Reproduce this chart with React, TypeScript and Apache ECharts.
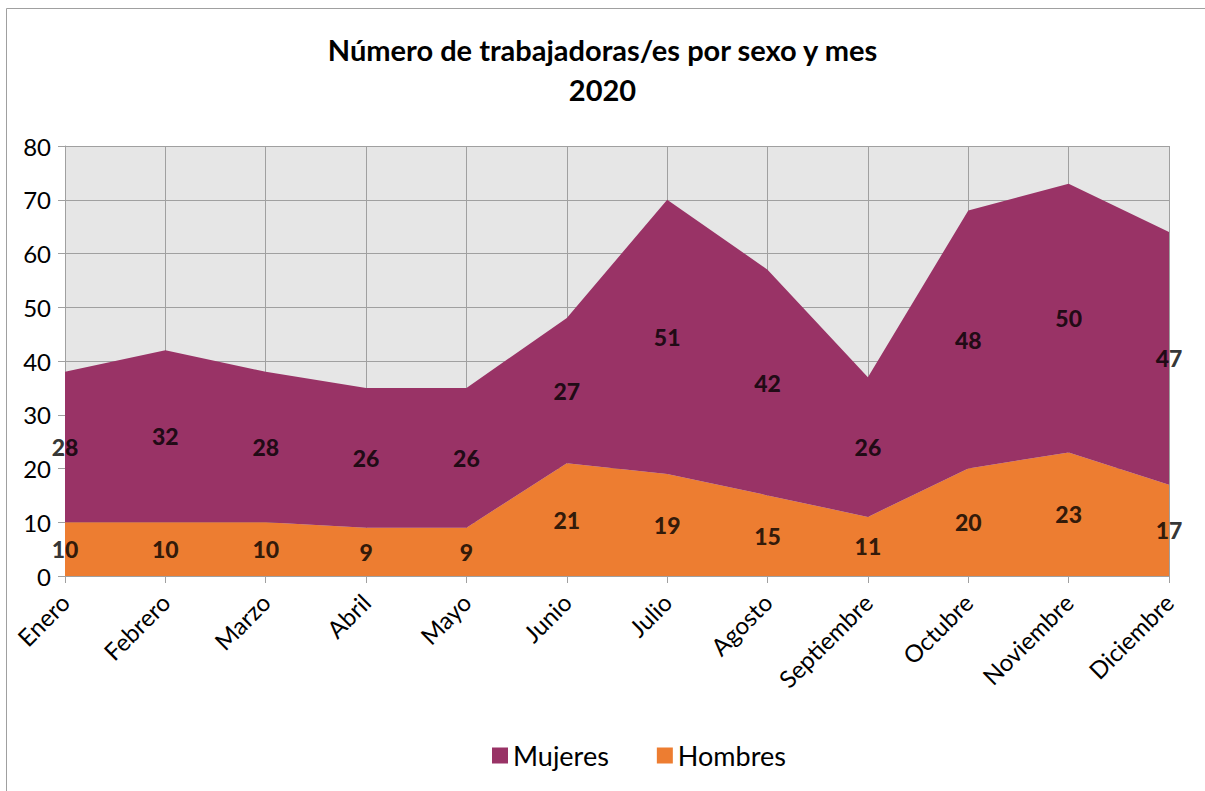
import React, { useEffect, useRef } from "react";
import * as echarts from "echarts";

const months = ["Enero", "Febrero", "Marzo", "Abril", "Mayo", "Junio", "Julio", "Agosto", "Septiembre", "Octubre", "Noviembre", "Diciembre"];
const hombres = [10, 10, 10, 9, 9, 21, 19, 15, 11, 20, 23, 17];
const mujeres = [28, 32, 28, 26, 26, 27, 51, 42, 26, 48, 50, 47];

const FONT = "Lato, 'Open Sans', sans-serif";

export default function App() {
  const ref = useRef<HTMLDivElement>(null);
  useEffect(() => {
    const chart = echarts.init(ref.current!, null, { renderer: "svg" });
    const hLabels = hombres.map((v, i) => ({ value: [i, v / 2], raw: v }));
    const mLabels = mujeres.map((v, i) => ({ value: [i, hombres[i] + v / 2], raw: v }));
    const labelStyle = {
      show: true,
      position: "inside",
      fontFamily: FONT,
      fontWeight: 900,
      fontSize: 23,
      color: "#000",
      formatter: (p: any) => String(p.data.raw),
    };
    chart.setOption({
      animation: false,
      backgroundColor: "#fff",
      title: {
        text: "Número de trabajadoras/es por sexo y mes\n2020",
        left: "center",
        top: 24,
        textStyle: { fontFamily: FONT, fontWeight: "bold", fontSize: 29, color: "#000", lineHeight: 40 },
      },
      graphic: [
        {
          type: "rect",
          shape: { x: 6.5, y: 8.5, width: 1210, height: 800 },
          style: { fill: "none", stroke: "#A0A0A0", lineWidth: 1 },
          silent: true,
        },
      ],
      legend: {
        top: 737,
        left: 487,
        itemWidth: 16,
        itemHeight: 16,
        itemGap: 48,
        icon: "rect",
        textStyle: { fontFamily: FONT, fontSize: 27, color: "#000" },
        data: ["Mujeres", "Hombres"],
      },
      grid: { left: 65, right: 36, top: 146, bottom: 215, backgroundColor: "#E6E6E6", show: true, borderWidth: 0 },
      xAxis: {
        type: "category",
        data: months,
        boundaryGap: false,
        axisLine: { show: true, lineStyle: { color: "#A0A0A0" } },
        axisTick: { show: true, length: 7, lineStyle: { color: "#A0A0A0" } },
        splitLine: { show: true, lineStyle: { color: "#A0A0A0" } },
        axisLabel: { rotate: 45, fontFamily: FONT, fontSize: 24, color: "#000", margin: 22 },
      },
      yAxis: {
        type: "value",
        min: 0,
        max: 80,
        interval: 10,
        axisLine: { show: true, lineStyle: { color: "#A0A0A0" } },
        axisTick: { show: true, length: 7, lineStyle: { color: "#A0A0A0" } },
        splitLine: { show: true, lineStyle: { color: "#A0A0A0" } },
        axisLabel: { fontFamily: FONT, fontSize: 24, color: "#000", margin: 14 },
      },
      series: [
        {
          name: "Hombres",
          type: "line",
          stack: "total",
          data: hombres,
          symbol: "none",
          lineStyle: { width: 0 },
          itemStyle: { color: "#ED7D31" },
          areaStyle: { color: "#ED7D31", opacity: 1 },
          z: 2,
        },
        {
          name: "Mujeres",
          type: "line",
          stack: "total",
          data: mujeres,
          symbol: "none",
          lineStyle: { width: 0 },
          itemStyle: { color: "#993366" },
          areaStyle: { color: "#993366", opacity: 1 },
          z: 2,
        },
        {
          type: "scatter",
          data: hLabels,
          symbolSize: 0,
          label: labelStyle,
          z: 5,
          silent: true,
        },
        {
          type: "scatter",
          data: mLabels,
          symbolSize: 0,
          label: labelStyle,
          z: 5,
          silent: true,
        },
      ],
    });
    return () => chart.dispose();
  }, []);
  return <div ref={ref} style={{ width: 1205, height: 791, position: "absolute", left: 0, top: 0 }} />;
}
